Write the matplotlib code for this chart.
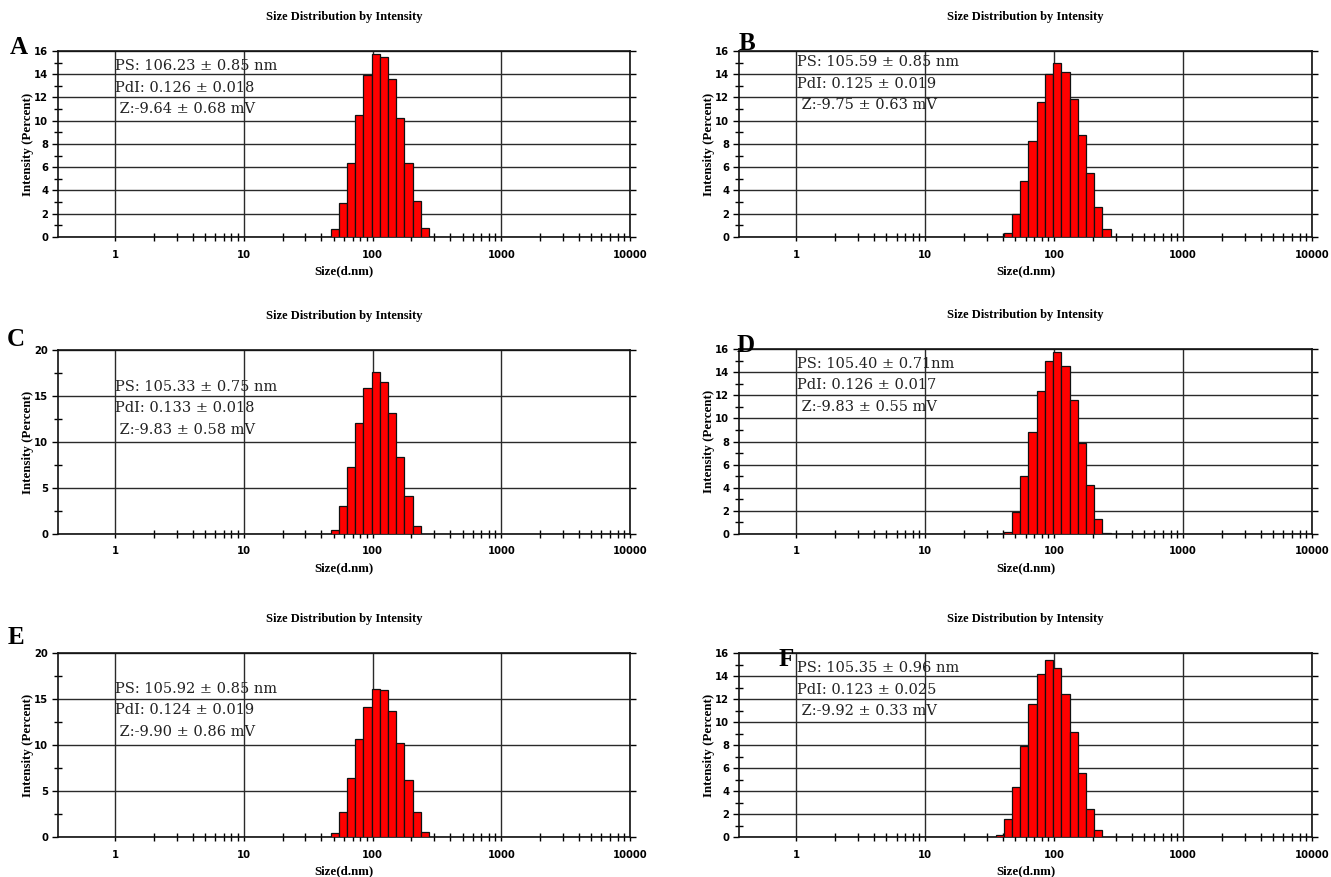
import numpy as np
import matplotlib
matplotlib.use("Agg")
import matplotlib.pyplot as plt
from matplotlib.ticker import FixedLocator, NullFormatter

# ---------------- data ----------------
sizes_A = [50.75, 58.77, 68.06, 78.82, 91.28, 105.7, 122.4, 141.8, 164.2, 190.1, 220.2, 255.0]
int_A = [0.7, 2.9, 6.4, 10.5, 13.9, 15.7, 15.5, 13.6, 10.2, 6.4, 3.1, 0.8]

sizes_B = [43.82, 50.75, 58.77, 68.06, 78.82, 91.28, 105.7, 122.4, 141.8, 164.2, 190.1, 220.2, 255.0]
int_B = [0.35, 2.0, 4.8, 8.3, 11.6, 14.0, 15.0, 14.2, 11.9, 8.8, 5.5, 2.6, 0.65]

sizes_C = [50.75, 58.77, 68.06, 78.82, 91.28, 105.7, 122.4, 141.8, 164.2, 190.1, 220.2]
int_C = [0.4, 3.0, 7.3, 12.1, 15.9, 17.6, 16.5, 13.1, 8.4, 4.1, 0.9]

sizes_D = [43.82, 50.75, 58.77, 68.06, 78.82, 91.28, 105.7, 122.4, 141.8, 164.2, 190.1, 220.2, 255.0]
int_D = [0.2, 1.9, 5.0, 8.8, 12.4, 15.0, 15.7, 14.5, 11.6, 7.9, 4.2, 1.3, 0.08]

sizes_E = [50.75, 58.77, 68.06, 78.82, 91.28, 105.7, 122.4, 141.8, 164.2, 190.1, 220.2, 255.0]
int_E = [0.45, 2.7, 6.4, 10.6, 14.1, 16.1, 15.95, 13.7, 10.2, 6.2, 2.7, 0.5]

sizes_F = [37.84, 43.82, 50.75, 58.77, 68.06, 78.82, 91.28, 105.7, 122.4, 141.8, 164.2, 190.1, 220.2]
int_F = [0.15, 1.55, 4.35, 7.9, 11.55, 14.15, 15.4, 14.7, 12.4, 9.1, 5.6, 2.45, 0.6]

text_A = ["PS: 106.23 \u00b1 0.85 nm", "PdI: 0.126 \u00b1 0.018", " Z:-9.64 \u00b1 0.68 mV"]
text_B = ["PS: 105.59 \u00b1 0.85 nm", "PdI: 0.125 \u00b1 0.019", " Z:-9.75 \u00b1 0.63 mV"]
text_C = ["PS: 105.33 \u00b1 0.75 nm", "PdI: 0.133 \u00b1 0.018", " Z:-9.83 \u00b1 0.58 mV"]
text_D = ["PS: 105.40 \u00b1 0.71nm", "PdI: 0.126 \u00b1 0.017", " Z:-9.83 \u00b1 0.55 mV"]
text_E = ["PS: 105.92 \u00b1 0.85 nm", "PdI: 0.124 \u00b1 0.019", " Z:-9.90 \u00b1 0.86 mV"]
text_F = ["PS: 105.35 \u00b1 0.96 nm", "PdI: 0.123 \u00b1 0.025", " Z:-9.92 \u00b1 0.33 mV"]

x_ticks = [1, 10, 100, 1000, 10000]
x_ticklabels = ["1", "10", "100", "1000", "10000"]
title = "Size Distribution by Intensity"
xlabel = "Size(d.nm)"
ylabel = "Intensity (Percent)"

# ---------------- layout ----------------
W, H = 1331, 877
fig = plt.figure(figsize=(W / 100, H / 100), dpi=100)

def px_rect(l, t, r, b):
    return [l / W, 1 - b / H, (r - l) / W, (b - t) / H]

panels = [
    # letter, sizes, ints, ymax, ystep, text, (l,t,r,b), text_xy, letter_xy
    ("A", sizes_A, int_A, 16, 2, text_A, (58, 51, 630, 237), (115, 66), (19, 48)),
    ("B", sizes_B, int_B, 16, 2, text_B, (739, 51, 1312, 237), (797, 62), (747, 44)),
    ("C", sizes_C, int_C, 20, 5, text_C, (58, 350, 630, 534), (115, 387), (16, 340)),
    ("D", sizes_D, int_D, 16, 2, text_D, (739, 349, 1312, 534), (797, 364), (746, 346)),
    ("E", sizes_E, int_E, 20, 5, text_E, (58, 653, 630, 837), (115, 689), (16, 637)),
    ("F", sizes_F, int_F, 16, 2, text_F, (739, 653, 1312, 837), (797, 668), (786, 659)),
]

ratio = 10 ** (np.log10(10000 / 0.4) / 69)
minor_x = [k * 10 ** d for d in range(0, 4) for k in range(2, 10)]
tick_font = dict(family="DejaVu Sans", weight="bold", size=7.2)
serif_bold = dict(family="Liberation Serif", weight="bold")

for letter, sizes, ints, ymax, ystep, lines, rect, txy, lxy in panels:
    l, t, r, b = rect
    ax = fig.add_axes(px_rect(l, t, r, b))
    s = np.array(sizes)
    left = s / np.sqrt(ratio)
    right = s * np.sqrt(ratio)
    ax.bar(left, ints, width=right - left, align="edge", color="#ff0000",
           edgecolor="#111111", linewidth=0.9, zorder=3)
    ax.set_xscale("log")
    ax.set_xlim(0.36, 10000)
    ax.set_ylim(0, ymax)
    ax.set_xticks(x_ticks)
    ax.set_xticklabels(x_ticklabels, fontdict=tick_font)
    ax.xaxis.set_minor_locator(FixedLocator(minor_x))
    ax.xaxis.set_minor_formatter(NullFormatter())
    yt = np.arange(0, ymax + 0.001, ystep)
    ax.set_yticks(yt)
    ax.set_yticklabels([f"{int(v)}" for v in yt], fontdict=tick_font)
    ax.yaxis.set_minor_locator(FixedLocator(yt[:-1] + ystep / 2))
    ax.set_axisbelow(True)
    ax.grid(True, which="major", color="#2a2a2a", linewidth=1.0)
    ax.tick_params(axis="x", which="major", direction="out", length=3, width=1, pad=6)
    ax.tick_params(axis="x", which="minor", direction="inout", length=6, width=1)
    ax.tick_params(axis="y", which="major", direction="out", length=4, width=1, pad=3,
                   right=True)
    ax.tick_params(axis="y", which="minor", direction="inout", length=6, width=1)
    for sp in ax.spines.values():
        sp.set_linewidth(1.2)
        sp.set_color("#111111")
    ax.set_xlabel(xlabel, fontsize=9.3, labelpad=4, **serif_bold)
    ax.set_ylabel(ylabel, fontsize=9.3, labelpad=0, **serif_bold)
    cx = (l + r) / 2
    fig.text(cx / W, 1 - (t - 34) / H, title, ha="center", va="center",
             fontsize=9, **serif_bold)
    fig.text(lxy[0] / W, 1 - lxy[1] / H, letter, ha="center", va="center",
             fontsize=18, **serif_bold)
    for i, line in enumerate(lines):
        fig.text(txy[0] / W, 1 - (txy[1] + 21.5 * i) / H, line, ha="left", va="center",
                 family="DejaVu Serif", fontsize=10.5, color="#222222")

fig.savefig("out.png", dpi=100)
